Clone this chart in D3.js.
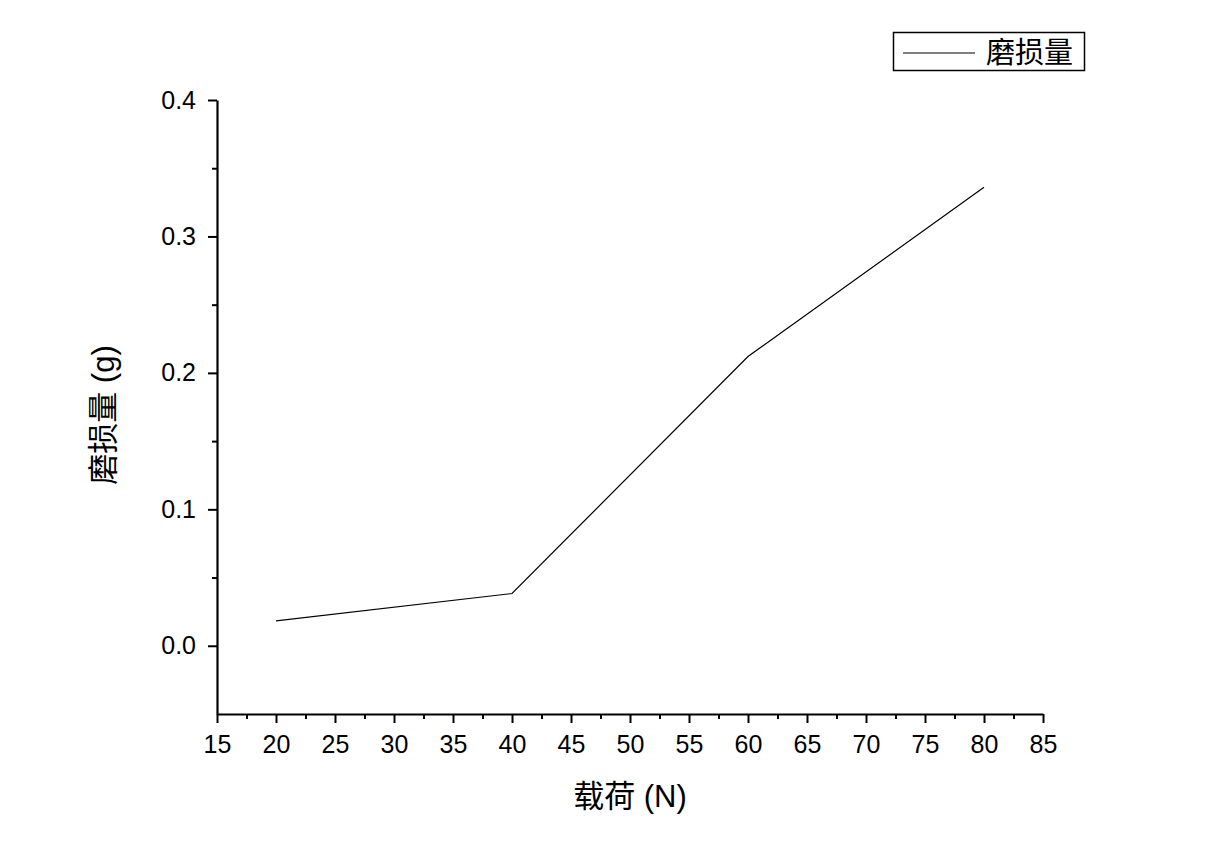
<!DOCTYPE html>
<html><head><meta charset="utf-8">
<script src="https://cdn.jsdelivr.net/npm/d3@7"></script>
<style>
body{margin:0;background:#fff;}
svg text{font-family:"Liberation Sans",Arial,"Noto Sans CJK SC",sans-serif;fill:#000;}
</style></head>
<body><svg id="c" width="1212" height="857"></svg>
<script>
const loads = [20, 40, 60, 80];
const wear = [0.0183, 0.0383, 0.212, 0.336];
const xTicks = [15,20,25,30,35,40,45,50,55,60,65,70,75,80,85];
const yTicks = [0.0,0.1,0.2,0.3,0.4];
const seriesName = "磨损量";
const xTitle = "载荷 (N)";
const yTitle = "磨损量 (g)";

const svg = d3.select("#c");
const L=217, R=1043, T=100, B=714;
const x = d3.scaleLinear().domain([15,85]).range([L,R]);
const y = d3.scaleLinear().domain([-0.05,0.4]).range([B,T]);

const xMinor = d3.range(17.5,85,5);
const yMinor = [0.05,0.15,0.25,0.35];

const gx = svg.append("g").attr("transform",`translate(0,${B})`);
gx.call(d3.axisBottom(x).tickValues(xMinor).tickSize(5).tickFormat(""))
  .call(g=>g.select(".domain").remove());
gx.append("g").call(d3.axisBottom(x).tickValues(xTicks).tickSize(9).tickSizeOuter(0).tickPadding(12).tickFormat(d3.format("d")));
gx.selectAll("line").attr("stroke-width",2);
gx.selectAll(".domain").attr("stroke-width",2.2);
gx.selectAll("text").style("font-size","25px");

const gy = svg.append("g").attr("transform",`translate(${L},0)`);
gy.call(d3.axisLeft(y).tickValues(yMinor).tickSize(5).tickFormat(""))
  .call(g=>g.select(".domain").remove());
gy.append("g").call(d3.axisLeft(y).tickValues(yTicks).tickSize(9).tickSizeOuter(0).tickPadding(12).tickFormat(d3.format(".1f")));
gy.selectAll("line").attr("stroke-width",2);
gy.selectAll(".domain").attr("stroke-width",2.2);
gy.selectAll("text").style("font-size","25px");

const pts = loads.map((d,i)=>[d,wear[i]]);
svg.append("path").datum(pts)
  .attr("fill","none").attr("stroke","#000").attr("stroke-width",1.2)
  .attr("d",d3.line().x(d=>x(d[0])).y(d=>y(d[1])));

svg.append("text").attr("x",630).attr("y",807).attr("text-anchor","middle")
  .style("font-size","31px").text(xTitle);
svg.append("text").attr("transform","translate(114,415) rotate(-90)")
  .attr("text-anchor","middle").style("font-size","31px").text(yTitle);

const lg = svg.append("g");
lg.append("rect").attr("x",893.5).attr("y",32.5).attr("width",191).attr("height",38)
  .attr("fill","#fff").attr("stroke","#000").attr("stroke-width",1.5);
lg.append("line").attr("x1",903).attr("x2",975).attr("y1",53).attr("y2",53)
  .attr("stroke","#000").attr("stroke-width",1.2);
lg.append("text").attr("x",986).attr("y",63).style("font-size","29px").text(seriesName);
</script></body></html>
